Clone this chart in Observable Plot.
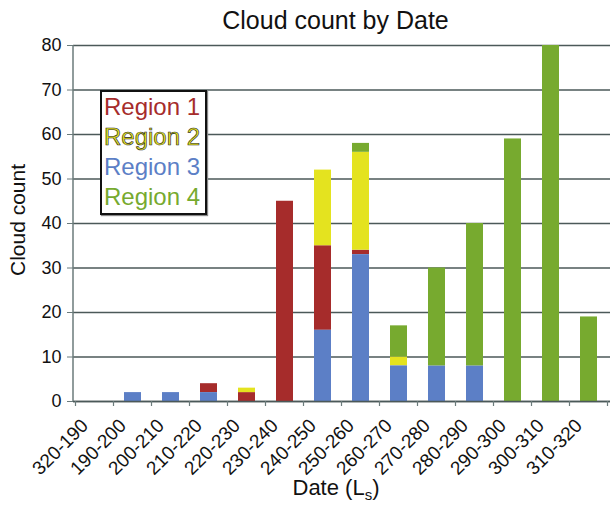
<!DOCTYPE html>
<html>
<head>
<meta charset="utf-8">
<script src="https://cdn.jsdelivr.net/npm/d3@7"></script>
<script src="https://cdn.jsdelivr.net/npm/@observablehq/plot@0.6"></script>
<style>
  html, body { margin: 0; padding: 0; background: #fff; }
  #wrap { position: relative; width: 610px; height: 507px; font-family: "Liberation Sans", Arial, Helvetica, sans-serif; color: #111; }
  #title { position: absolute; left: 0; width: 671px; top: 8px; line-height: 25px; font-size: 25px; text-align: center; }
  #ylabel { position: absolute; left: 17px; top: 220px; font-size: 21px; line-height: 21px; white-space: nowrap; transform: translate(-50%, -50%) rotate(-90deg); }
  #xlabel { position: absolute; left: 0; width: 672px; top: 477px; font-size: 22px; line-height: 22px; text-align: center; }
  #xlabel sub { font-size: 15px; vertical-align: -5px; line-height: 0; }
  #legend { position: absolute; left: 100px; top: 90px; width: 101px; border: 2px solid #111; background: #fff; box-shadow: 1px 1px 1px #888; font-size: 24px; line-height: 30px; padding: 0 0 1px 2px; }
  #legend div { white-space: nowrap; }
  svg { display: block; }
</style>
</head>
<body>
<div id="wrap">
  <div id="chart"></div>
  <div id="title">Cloud count by Date</div>
  <div id="ylabel">Cloud count</div>
  <div id="xlabel">Date (L<sub>s</sub>)</div>
  <div id="legend"></div>
</div>
<script>
const categories = ["320-190","190-200","200-210","210-220","220-230","230-240","240-250","250-260","260-270","270-280","280-290","290-300","300-310","310-320"];
const regions = ["Region 1","Region 2","Region 3","Region 4"];
const regionColors = ["#a62c2b","#e4e31f","#5c7fc6","#77aa2f"];
const stackOrder = ["Region 3","Region 1","Region 2","Region 4"];
const region1 = [0,0,0,2,2,45,19,1,0,0,0,0,0,0];
const region2 = [0,0,0,0,1,0,17,22,2,0,0,0,0,0];
const region3 = [0,2,2,2,0,0,16,33,8,8,8,0,0,0];
const region4 = [0,0,0,0,0,0,0,2,7,22,32,59,80,19];
const yTicks = [0,10,20,30,40,50,60,70,80];

const series = {"Region 1": region1, "Region 2": region2, "Region 3": region3, "Region 4": region4};
const data = [];
for (const r of regions) categories.forEach((c, i) => data.push({date: c, region: r, count: series[r][i]}));

const gridColor = "#4b5959";
const chart = Plot.plot({
  width: 610,
  height: 507,
  marginTop: 45,
  marginBottom: 106,
  marginLeft: 73,
  marginRight: 0,
  style: {fontFamily: "'Liberation Sans', Arial, Helvetica, sans-serif", color: "#111", background: "#fff"},
  x: {domain: categories, paddingInner: 0.56, paddingOuter: 0.28},
  y: {domain: [0, 80], ticks: yTicks},
  color: {domain: regions, range: regionColors},
  marks: [
    Plot.gridY(yTicks, {stroke: gridColor, strokeOpacity: 1, strokeWidth: 1.5}),
    Plot.barY(data, Plot.stackY({x: "date", y: "count", fill: "region", order: stackOrder})),
    Plot.ruleY([0], {stroke: gridColor, strokeWidth: 1.5}),
    Plot.axisY(yTicks, {tickSize: 6, tickPadding: 6, fontSize: 18, label: null, stroke: "#6b7b7b"}),
    Plot.axisX({tickSize: 0, tickPadding: 13, tickRotate: -45, fontSize: 19, label: null, dx: -10, dy: 8})
  ]
});
document.getElementById("chart").appendChild(chart);

// axis line on the left and category boundary ticks below the axis
const xs = chart.scale("x"), ys = chart.scale("y");
const svg = d3.select(chart);
const y0 = ys.apply(0), yTop = ys.apply(80);
const left = xs.range[0];
svg.append("line").attr("x1", left).attr("x2", left).attr("y1", yTop).attr("y2", y0)
  .attr("stroke", "#6b7b7b").attr("stroke-width", 1.5);
const half = (xs.step - xs.bandwidth) / 2;
const bounds = categories.map(c => xs.apply(c) - half).concat([xs.apply(categories[categories.length - 1]) - half + xs.step]);
svg.append("g").selectAll("line").data(bounds).join("line")
  .attr("x1", d => d).attr("x2", d => d).attr("y1", y0).attr("y2", y0 + 5)
  .attr("stroke", "#6b7b7b").attr("stroke-width", 1.2);

// legend
const legend = d3.select("#legend");
regions.forEach((r, i) => {
  const d = legend.append("div").text(r).style("color", regionColors[i]);
  if (r === "Region 2") d.style("-webkit-text-stroke", "0.6px #222");
});
</script>
</body>
</html>
